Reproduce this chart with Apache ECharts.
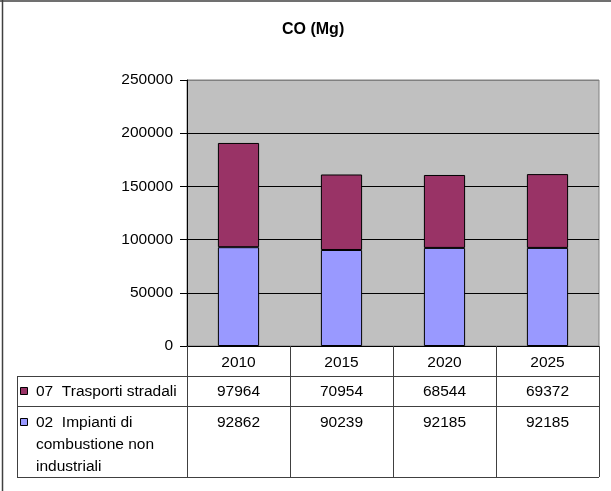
<!DOCTYPE html>
<html>
<head>
<meta charset="utf-8">
<script src="https://cdn.jsdelivr.net/npm/echarts@6/dist/echarts.min.js"></script>
<style>
  html, body { margin: 0; padding: 0; background: #fff; }
  #chart { width: 611px; height: 491px; }
</style>
</head>
<body>
<div id="chart"></div>
<script>
// CO emissions (Mg) by sector, scenario years
const years = ['2010', '2015', '2020', '2025'];
const trasporti = [97964, 70954, 68544, 69372];   // 07 Trasporti stradali
const impianti  = [92862, 90239, 92185, 92185];   // 02 Impianti di combustione non industriali
const yTicks = [0, 50000, 100000, 150000, 200000, 250000];

const FONT = '"Liberation Sans", Arial, sans-serif';
const FS = 15.5;
const C_IMP = '#9999FF';
const C_TRA = '#993366';

// data-table layout (below the plot area)
const TABLE_LEFT = 17;
const ROW_HEADER_BOTTOM = 376;
const ROW1_BOTTOM = 406;
const TABLE_BOTTOM = 477;

const chart = echarts.init(document.getElementById('chart'), null, { renderer: 'canvas' });

chart.setOption({
  animation: false,
  backgroundColor: '#fff',
  title: {
    text: 'CO (Mg)',
    left: 277,
    top: 17,
    textStyle: { fontFamily: FONT, fontSize: 16, fontWeight: 'bold', color: '#000' }
  },
  grid: {
    left: 187, right: 12, top: 80, bottom: 145,
    show: true, backgroundColor: '#C0C0C0', borderColor: '#808080', borderWidth: 1
  },
  xAxis: {
    type: 'category',
    data: years,
    axisLine: { lineStyle: { color: '#000', width: 1 } },
    axisTick: { show: true, alignWithLabel: false, length: TABLE_BOTTOM - 346, lineStyle: { color: '#404040', width: 1 } },
    axisLabel: { margin: 9, fontFamily: FONT, fontSize: FS, color: '#000' },
    splitLine: { show: false }
  },
  yAxis: {
    type: 'value',
    min: yTicks[0],
    max: yTicks[yTicks.length - 1],
    interval: yTicks[1] - yTicks[0],
    axisLine: { show: true, lineStyle: { color: '#000', width: 1 } },
    axisTick: { show: true, length: 7, lineStyle: { color: '#000' } },
    axisLabel: { margin: 14, fontFamily: FONT, fontSize: FS, color: '#000', formatter: function (v) { return String(v); } },
    splitLine: { show: true, lineStyle: { color: ['#000', '#000', '#000', '#000', '#000', '#808080'], width: 1 } }
  },
  series: [
    {
      name: '02  Impianti di combustione non industriali',
      type: 'bar', stack: 'co', barWidth: '40%',
      data: impianti,
      itemStyle: { color: C_IMP, borderColor: '#000', borderWidth: 1 }
    },
    {
      name: '07  Trasporti stradali',
      type: 'bar', stack: 'co', barWidth: '40%',
      data: trasporti,
      itemStyle: { color: C_TRA, borderColor: '#000', borderWidth: 1 }
    }
  ]
});

// Data table: row labels with legend keys, and the values under each category
const right = chart.convertToPixel({ xAxisIndex: 0 }, years[years.length - 1]) +
  (chart.convertToPixel({ xAxisIndex: 0 }, years[1]) - chart.convertToPixel({ xAxisIndex: 0 }, years[0])) / 2;

const lineStyle = { stroke: '#404040', lineWidth: 1 };
const frame = { stroke: '#404040', lineWidth: 1.5 };
const txt = FS + 'px ' + FONT;
const els = [
  // outer chart frame (top and left edges)
  { type: 'line', shape: { x1: 0, y1: 1, x2: 611, y2: 1 }, style: frame, silent: true },
  { type: 'line', shape: { x1: 2.5, y1: 0, x2: 2.5, y2: 491 }, style: frame, silent: true },
  { type: 'line', shape: { x1: TABLE_LEFT, y1: ROW_HEADER_BOTTOM + 0.5, x2: right, y2: ROW_HEADER_BOTTOM + 0.5 }, style: lineStyle },
  { type: 'line', shape: { x1: TABLE_LEFT, y1: ROW1_BOTTOM + 0.5, x2: right, y2: ROW1_BOTTOM + 0.5 }, style: lineStyle },
  { type: 'line', shape: { x1: TABLE_LEFT, y1: TABLE_BOTTOM + 0.5, x2: right, y2: TABLE_BOTTOM + 0.5 }, style: lineStyle },
  { type: 'line', shape: { x1: TABLE_LEFT + 0.5, y1: ROW_HEADER_BOTTOM, x2: TABLE_LEFT + 0.5, y2: TABLE_BOTTOM }, style: lineStyle },
  // legend keys
  { type: 'rect', shape: { x: 20.5, y: 387.5, width: 7, height: 7 }, style: { fill: C_TRA, stroke: '#000', lineWidth: 1 } },
  { type: 'rect', shape: { x: 20.5, y: 418.5, width: 7, height: 7 }, style: { fill: C_IMP, stroke: '#000', lineWidth: 1 } },
  { type: 'text', x: 36, y: 392, style: { text: '07  Trasporti stradali', font: txt, fill: '#000', textVerticalAlign: 'middle' } },
  { type: 'text', x: 36, y: 412, style: { text: '02  Impianti di\ncombustione non\nindustriali', font: txt, fill: '#000', lineHeight: 22, textVerticalAlign: 'top' } }
];

years.forEach(function (yr, i) {
  const cx = chart.convertToPixel({ xAxisIndex: 0 }, yr);
  els.push({ type: 'text', x: cx, y: 392, style: { text: String(trasporti[i]), font: txt, fill: '#000', textAlign: 'center', textVerticalAlign: 'middle' } });
  els.push({ type: 'text', x: cx, y: 423, style: { text: String(impianti[i]), font: txt, fill: '#000', textAlign: 'center', textVerticalAlign: 'middle' } });
});

chart.setOption({ graphic: { elements: els } });
</script>
</body>
</html>
